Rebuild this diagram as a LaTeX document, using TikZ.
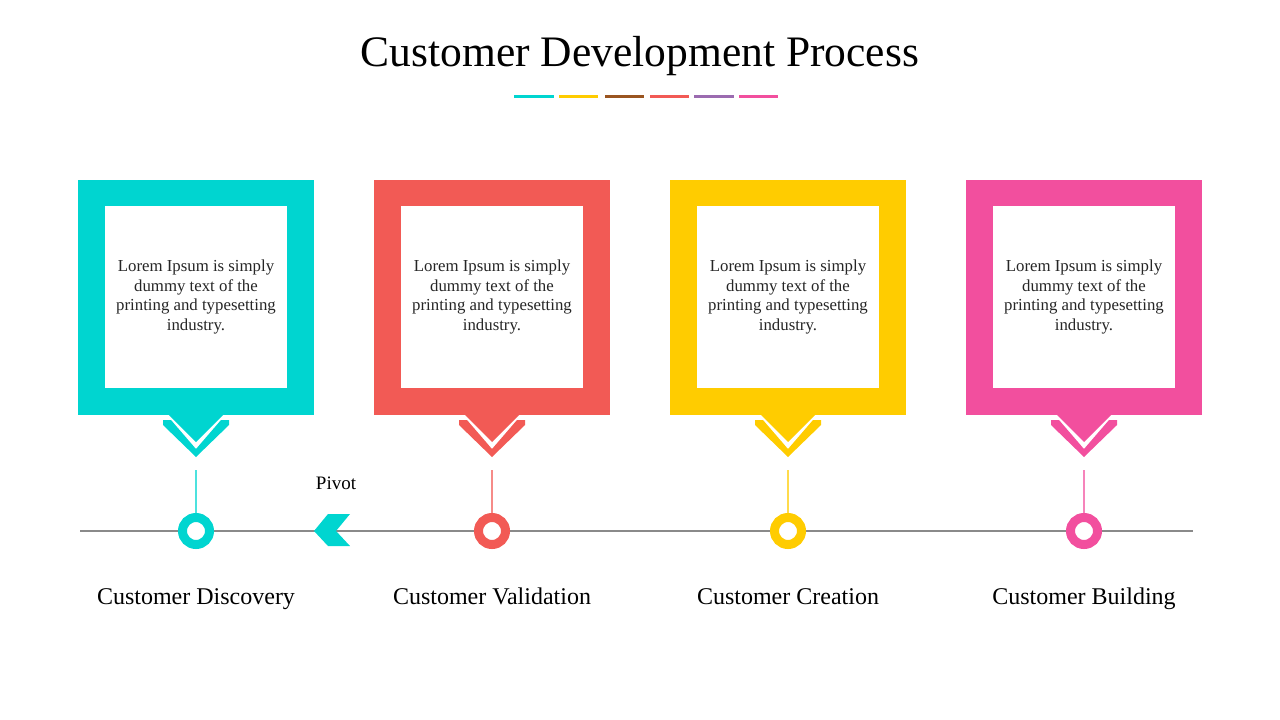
\documentclass[tikz,border=0pt]{standalone}
\usepackage{fontspec}
\setmainfont{Liberation Serif}
\definecolor{ccyan}{HTML}{00D5D0}
\definecolor{cred}{HTML}{F25A55}
\definecolor{cyellow}{HTML}{FFCC00}
\definecolor{cpink}{HTML}{F24F9E}
\definecolor{cbrown}{HTML}{9A5520}
\definecolor{cpurple}{HTML}{9B6BB0}
\definecolor{cgray}{HTML}{8A8A8A}
\tikzset{
  outerbox/.style={rectangle, minimum width=236pt, minimum height=235pt, inner sep=0pt},
  innerbox/.style={rectangle, fill=white, minimum size=182pt, inner sep=0pt},
  bodytext/.style={align=center, font=\fontsize{16.8}{19.5}\selectfont, text=black!85},
  ring/.style={circle, minimum size=27pt, inner sep=0pt, line width=9pt, fill=white},
  steplabel/.style={font=\fontsize{24}{28}\selectfont, anchor=base},
  dashseg/.style={line width=3pt},
}
\begin{document}
\begin{tikzpicture}[x=1pt,y=-1pt]
\useasboundingbox (0,0) rectangle (1280,720);
% title
\node[font=\fontsize{43.5}{48}\selectfont, anchor=base] (title) at (640,66) {Customer Development Process};
% colour segments
\foreach \a/\b/\c [count=\i] in {514/554/ccyan,559/598/cyellow,605/644/cbrown,650/689/cred,694/734/cpurple,739/778/cpink}{
  \coordinate (s\i a) at (\a,96);
  \coordinate (s\i b) at (\b,96);
  \draw[dashseg, \c] (s\i a) -- (s\i b);
}
% timeline
\coordinate (tlL) at (80,531);
\coordinate (tlR) at (1193,531);
\draw[cgray, line width=1.5pt] (tlL) -- (tlR);
% four stages
\foreach \cx/\c/\lab [count=\i] in {196/ccyan/Customer Discovery,492/cred/Customer Validation,788/cyellow/Customer Creation,1084/cpink/Customer Building}{
  \node[outerbox, fill=\c] (box\i) at (\cx,297.5) {};
  \node[innerbox] (inner\i) at (\cx,297) {};
  \node[bodytext] (txt\i) at (\cx,297) {Lorem Ipsum is simply\\ dummy text of the\\ printing and typesetting\\ industry.};
  \fill[\c] (\cx-28,414) -- (\cx+28,414) -- (\cx,442) -- cycle;
  \fill[\c] (\cx-33,420) -- (\cx-25,420) -- (\cx,449) -- (\cx+25,420) -- (\cx+33,420)
        -- (\cx+33,425) -- (\cx,457) -- (\cx-33,425) -- cycle;
  \node[ring, draw=\c] (dot\i) at (\cx,531) {};
  \coordinate (stem\i) at (\cx,470);
  \draw[\c!70, line width=1.2pt] (stem\i) -- (dot\i.north);
  \node[steplabel] (lab\i) at (\cx,604) {\lab};
}
% pivot arrow
\fill[ccyan] (314,531) -- (328,514) -- (350,514) -- (336,531) -- (350,546) -- (328,546) -- cycle;
\node[font=\fontsize{19}{22}\selectfont, anchor=base] (pivot) at (336,489) {Pivot};
\end{tikzpicture}
\end{document}
